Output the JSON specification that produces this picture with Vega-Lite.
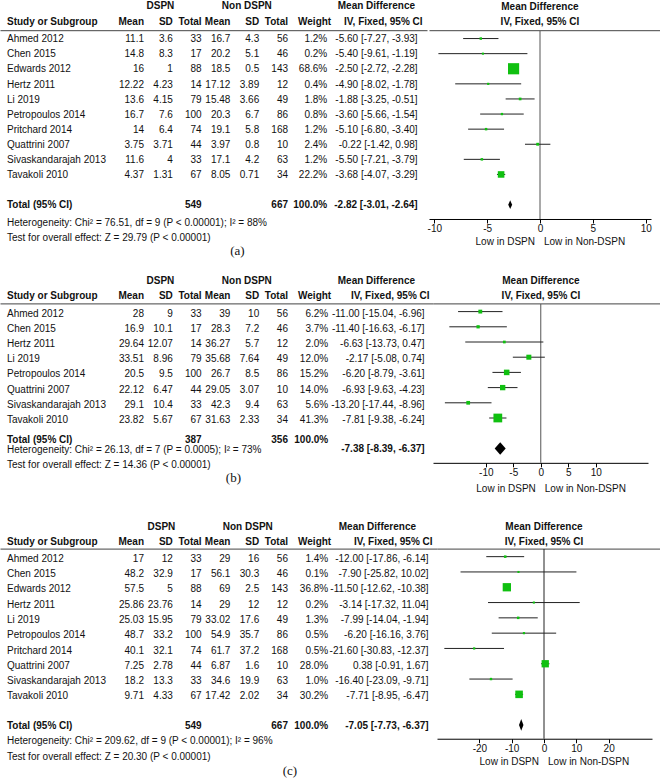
{
"$schema": "https://vega.github.io/schema/vega-lite/v6.json",
"padding": 0,
"background": "white",
"spacing": 0,
"config": {
  "view": {"stroke": null},
  "text": {"font": "Liberation Sans", "fontSize": 10, "color": "#111"},
  "axis": {"labelFont": "Liberation Sans", "labelFontSize": 10, "labelColor": "#111"}
},
"datasets": {
  "hdr": [
    {"row": "h1", "col": "dspn", "txt": "DSPN"},
    {"row": "h1", "col": "nondspn", "txt": "Non DSPN"},
    {"row": "h1", "col": "mdh", "txt": "Mean Difference"},
    {"row": "h2", "col": "row", "txt": "Study or Subgroup"},
    {"row": "h2", "col": "m1", "txt": "Mean"},
    {"row": "h2", "col": "sd1", "txt": "SD"},
    {"row": "h2", "col": "n1", "txt": "Total"},
    {"row": "h2", "col": "m2", "txt": "Mean"},
    {"row": "h2", "col": "sd2", "txt": "SD"},
    {"row": "h2", "col": "n2", "txt": "Total"},
    {"row": "h2", "col": "w", "txt": "Weight"},
    {"row": "h2", "col": "ci", "txt": "IV, Fixed, 95% CI"},
    {"row": "h1", "col": "plot", "txt": "Mean Difference"},
    {"row": "h2", "col": "plot", "txt": "IV, Fixed, 95% CI"}
  ],
  "fav": [
    {"side": "left", "label": "Low in DSPN"},
    {"side": "right", "label": "Low in Non-DSPN"}
  ],
  "a_rows": [
    {"kind": "study", "row": "Ahmed 2012", "m1": 11.1, "sd1": 3.6, "n1": 33, "m2": 16.7, "sd2": 4.3, "n2": 56, "w": 0.012, "md": -5.6, "lo": -7.27, "hi": -3.93, "ci": "-5.60 [-7.27, -3.93]"},
    {"kind": "study", "row": "Chen 2015", "m1": 14.8, "sd1": 8.3, "n1": 17, "m2": 20.2, "sd2": 5.1, "n2": 46, "w": 0.002, "md": -5.4, "lo": -9.61, "hi": -1.19, "ci": "-5.40 [-9.61, -1.19]"},
    {"kind": "study", "row": "Edwards 2012", "m1": 16, "sd1": 1, "n1": 88, "m2": 18.5, "sd2": 0.5, "n2": 143, "w": 0.686, "md": -2.5, "lo": -2.72, "hi": -2.28, "ci": "-2.50 [-2.72, -2.28]"},
    {"kind": "study", "row": "Hertz 2011", "m1": 12.22, "sd1": 4.23, "n1": 14, "m2": 17.12, "sd2": 3.89, "n2": 12, "w": 0.004, "md": -4.9, "lo": -8.02, "hi": -1.78, "ci": "-4.90 [-8.02, -1.78]"},
    {"kind": "study", "row": "Li 2019", "m1": 13.6, "sd1": 4.15, "n1": 79, "m2": 15.48, "sd2": 3.66, "n2": 49, "w": 0.018, "md": -1.88, "lo": -3.25, "hi": -0.51, "ci": "-1.88 [-3.25, -0.51]"},
    {"kind": "study", "row": "Petropoulos 2014", "m1": 16.7, "sd1": 7.6, "n1": 100, "m2": 20.3, "sd2": 6.7, "n2": 86, "w": 0.008, "md": -3.6, "lo": -5.66, "hi": -1.54, "ci": "-3.60 [-5.66, -1.54]"},
    {"kind": "study", "row": "Pritchard 2014", "m1": 14, "sd1": 6.4, "n1": 74, "m2": 19.1, "sd2": 5.8, "n2": 168, "w": 0.012, "md": -5.1, "lo": -6.8, "hi": -3.4, "ci": "-5.10 [-6.80, -3.40]"},
    {"kind": "study", "row": "Quattrini 2007", "m1": 3.75, "sd1": 3.71, "n1": 44, "m2": 3.97, "sd2": 0.8, "n2": 10, "w": 0.024, "md": -0.22, "lo": -1.42, "hi": 0.98, "ci": "-0.22 [-1.42, 0.98]"},
    {"kind": "study", "row": "Sivaskandarajah 2013", "m1": 11.6, "sd1": 4, "n1": 33, "m2": 17.1, "sd2": 4.2, "n2": 63, "w": 0.012, "md": -5.5, "lo": -7.21, "hi": -3.79, "ci": "-5.50 [-7.21, -3.79]"},
    {"kind": "study", "row": "Tavakoli 2010", "m1": 4.37, "sd1": 1.31, "n1": 67, "m2": 8.05, "sd2": 0.71, "n2": 34, "w": 0.222, "md": -3.68, "lo": -4.07, "hi": -3.29, "ci": "-3.68 [-4.07, -3.29]"},
    {"kind": "total", "row": "Total (95% CI)", "n1": 549, "n2": 667, "w": 1, "md": -2.82, "lo": -3.01, "hi": -2.64, "ci": "-2.82 [-3.01, -2.64]"}
  ],
  "a_notes": [
    {"row": "het", "col": "row", "txt": "Heterogeneity: Chi² = 76.51, df = 9 (P < 0.00001); I² = 88%"},
    {"row": "test", "col": "row", "txt": "Test for overall effect: Z = 29.79 (P < 0.00001)"},
    {"row": "label", "col": "m2", "txt": "(a)"}
  ],
  "b_rows": [
    {"kind": "study", "row": "Ahmed 2012", "m1": 28, "sd1": 9, "n1": 33, "m2": 39, "sd2": 10, "n2": 56, "w": 0.062, "md": -11.0, "lo": -15.04, "hi": -6.96, "ci": "-11.00 [-15.04, -6.96]"},
    {"kind": "study", "row": "Chen 2015", "m1": 16.9, "sd1": 10.1, "n1": 17, "m2": 28.3, "sd2": 7.2, "n2": 46, "w": 0.037, "md": -11.4, "lo": -16.63, "hi": -6.17, "ci": "-11.40 [-16.63, -6.17]"},
    {"kind": "study", "row": "Hertz 2011", "m1": 29.64, "sd1": 12.07, "n1": 14, "m2": 36.27, "sd2": 5.7, "n2": 12, "w": 0.02, "md": -6.63, "lo": -13.73, "hi": 0.47, "ci": "-6.63 [-13.73, 0.47]"},
    {"kind": "study", "row": "Li 2019", "m1": 33.51, "sd1": 8.96, "n1": 79, "m2": 35.68, "sd2": 7.64, "n2": 49, "w": 0.12, "md": -2.17, "lo": -5.08, "hi": 0.74, "ci": "-2.17 [-5.08, 0.74]"},
    {"kind": "study", "row": "Petropoulos 2014", "m1": 20.5, "sd1": 9.5, "n1": 100, "m2": 26.7, "sd2": 8.5, "n2": 86, "w": 0.152, "md": -6.2, "lo": -8.79, "hi": -3.61, "ci": "-6.20 [-8.79, -3.61]"},
    {"kind": "study", "row": "Quattrini 2007", "m1": 22.12, "sd1": 6.47, "n1": 44, "m2": 29.05, "sd2": 3.07, "n2": 10, "w": 0.14, "md": -6.93, "lo": -9.63, "hi": -4.23, "ci": "-6.93 [-9.63, -4.23]"},
    {"kind": "study", "row": "Sivaskandarajah 2013", "m1": 29.1, "sd1": 10.4, "n1": 33, "m2": 42.3, "sd2": 9.4, "n2": 63, "w": 0.056, "md": -13.2, "lo": -17.44, "hi": -8.96, "ci": "-13.20 [-17.44, -8.96]"},
    {"kind": "study", "row": "Tavakoli 2010", "m1": 23.82, "sd1": 5.67, "n1": 67, "m2": 31.63, "sd2": 2.33, "n2": 34, "w": 0.413, "md": -7.81, "lo": -9.38, "hi": -6.24, "ci": "-7.81 [-9.38, -6.24]"},
    {"kind": "total", "row": "Total (95% CI)", "n1": 387, "n2": 356, "w": 1, "md": -7.38, "lo": -8.39, "hi": -6.37, "ci": "-7.38 [-8.39, -6.37]"}
  ],
  "b_notes": [
    {"row": "het", "col": "row", "txt": "Heterogeneity: Chi² = 26.13, df = 7 (P = 0.0005); I² = 73%"},
    {"row": "test", "col": "row", "txt": "Test for overall effect: Z = 14.36 (P < 0.00001)"},
    {"row": "label", "col": "m2", "txt": "(b)"}
  ],
  "c_rows": [
    {"kind": "study", "row": "Ahmed 2012", "m1": 17, "sd1": 12, "n1": 33, "m2": 29, "sd2": 16, "n2": 56, "w": 0.014, "md": -12.0, "lo": -17.86, "hi": -6.14, "ci": "-12.00 [-17.86, -6.14]"},
    {"kind": "study", "row": "Chen 2015", "m1": 48.2, "sd1": 32.9, "n1": 17, "m2": 56.1, "sd2": 30.3, "n2": 46, "w": 0.001, "md": -7.9, "lo": -25.82, "hi": 10.02, "ci": "-7.90 [-25.82, 10.02]"},
    {"kind": "study", "row": "Edwards 2012", "m1": 57.5, "sd1": 5, "n1": 88, "m2": 69, "sd2": 2.5, "n2": 143, "w": 0.368, "md": -11.5, "lo": -12.62, "hi": -10.38, "ci": "-11.50 [-12.62, -10.38]"},
    {"kind": "study", "row": "Hertz 2011", "m1": 25.86, "sd1": 23.76, "n1": 14, "m2": 29, "sd2": 12, "n2": 12, "w": 0.002, "md": -3.14, "lo": -17.32, "hi": 11.04, "ci": "-3.14 [-17.32, 11.04]"},
    {"kind": "study", "row": "Li 2019", "m1": 25.03, "sd1": 15.95, "n1": 79, "m2": 33.02, "sd2": 17.6, "n2": 49, "w": 0.013, "md": -7.99, "lo": -14.04, "hi": -1.94, "ci": "-7.99 [-14.04, -1.94]"},
    {"kind": "study", "row": "Petropoulos 2014", "m1": 48.7, "sd1": 33.2, "n1": 100, "m2": 54.9, "sd2": 35.7, "n2": 86, "w": 0.005, "md": -6.2, "lo": -16.16, "hi": 3.76, "ci": "-6.20 [-16.16, 3.76]"},
    {"kind": "study", "row": "Pritchard 2014", "m1": 40.1, "sd1": 32.1, "n1": 74, "m2": 61.7, "sd2": 37.2, "n2": 168, "w": 0.005, "md": -21.6, "lo": -30.83, "hi": -12.37, "ci": "-21.60 [-30.83, -12.37]"},
    {"kind": "study", "row": "Quattrini 2007", "m1": 7.25, "sd1": 2.78, "n1": 44, "m2": 6.87, "sd2": 1.6, "n2": 10, "w": 0.28, "md": 0.38, "lo": -0.91, "hi": 1.67, "ci": "0.38 [-0.91, 1.67]"},
    {"kind": "study", "row": "Sivaskandarajah 2013", "m1": 18.2, "sd1": 13.3, "n1": 33, "m2": 34.6, "sd2": 19.9, "n2": 63, "w": 0.01, "md": -16.4, "lo": -23.09, "hi": -9.71, "ci": "-16.40 [-23.09, -9.71]"},
    {"kind": "study", "row": "Tavakoli 2010", "m1": 9.71, "sd1": 4.33, "n1": 67, "m2": 17.42, "sd2": 2.02, "n2": 34, "w": 0.302, "md": -7.71, "lo": -8.95, "hi": -6.47, "ci": "-7.71 [-8.95, -6.47]"},
    {"kind": "total", "row": "Total (95% CI)", "n1": 549, "n2": 667, "w": 1, "md": -7.05, "lo": -7.73, "hi": -6.37, "ci": "-7.05 [-7.73, -6.37]"}
  ],
  "c_notes": [
    {"row": "het", "col": "row", "txt": "Heterogeneity: Chi² = 209.62, df = 9 (P < 0.00001); I² = 96%"},
    {"row": "test", "col": "row", "txt": "Test for overall effect: Z = 20.30 (P < 0.00001)"},
    {"row": "label", "col": "n2", "txt": "(c)"}
  ]
},
"vconcat": [
  {
    "hconcat": [
      {
        "width": 427,
        "height": {"step": 15.1},
        "encoding": {
          "x": {"field": "col", "type": "nominal", "scale": {"type": "point", "domain": ["row","_1","_2","_3","_4","_5","_6","_7","_8","_9","m1","dspn","sd1","_13","n1","_15","m2","nondspn","sd2","_19","n2","_21","_22","w","_24","_25","mdh","_27","_28","ci"], "padding": 0.326, "align": 0}, "axis": {"orient": "top", "offset": -30.2, "labels": false, "ticks": false, "title": null, "grid": false, "domainColor": "#444", "domainWidth": 1}},
          "y": {"field": "row", "type": "nominal", "scale": {"type": "band", "domain": ["h1","h2","Ahmed 2012","Chen 2015","Edwards 2012","Hertz 2011","Li 2019","Petropoulos 2014","Pritchard 2014","Quattrini 2007","Sivaskandarajah 2013","Tavakoli 2010"," ","Total (95% CI)","het","test","label"], "paddingInner": 0, "paddingOuter": 0}, "axis": null}
        },
        "layer": [
          {"data": {"name": "hdr"}, "transform": [{"filter": "datum.row == 'h1' && datum.col != 'plot'"}], "mark": {"type": "text", "fontWeight": "bold", "align": "center", "dx": 2, "dy": -1.5}, "encoding": {"text": {"field": "txt", "type": "nominal"}}},
          {"data": {"name": "hdr"}, "transform": [{"filter": "datum.row == 'h2' && indexof(['m1','sd1','n1','m2','sd2','n2','w'], datum.col) >= 0"}], "mark": {"type": "text", "fontWeight": "bold", "align": "right", "dy": -0.5}, "encoding": {"text": {"field": "txt", "type": "nominal"}}},
          {"data": {"name": "hdr"}, "transform": [{"filter": "datum.row == 'h2' && datum.col == 'ci'"}], "mark": {"type": "text", "fontWeight": "bold", "align": "right", "dx": 5, "dy": -0.5}, "encoding": {"text": {"field": "txt", "type": "nominal"}}},
          {"data": {"name": "hdr"}, "transform": [{"filter": "datum.col == 'row'"}], "mark": {"type": "text", "fontWeight": "bold", "align": "left", "dx": 7, "dy": -0.5}, "encoding": {"text": {"field": "txt", "type": "nominal"}}},
          {"data": {"name": "a_rows"}, "transform": [{"filter": "datum.kind == 'study'"}, {"fold": ["row"], "as": ["col", "txt"]}], "mark": {"type": "text", "align": "left", "dx": 7, "dy": 1.5}, "encoding": {"text": {"field": "txt", "type": "nominal"}}},
          {"data": {"name": "a_rows"}, "transform": [{"filter": "datum.kind == 'study'"}, {"fold": ["m1","sd1","n1","m2","sd2","n2","ci"], "as": ["col", "txt"]}], "mark": {"type": "text", "align": "right", "dy": 1.5}, "encoding": {"text": {"field": "txt", "type": "nominal"}}},
          {"data": {"name": "a_rows"}, "transform": [{"filter": "datum.kind == 'study'"}, {"fold": ["w"], "as": ["col", "txt"]}], "mark": {"type": "text", "align": "right", "dx": -4, "dy": 1.5}, "encoding": {"text": {"field": "txt", "type": "quantitative", "format": ".1%"}}},
          {"data": {"name": "a_rows"}, "transform": [{"filter": "datum.kind == 'total'"}, {"fold": ["row"], "as": ["col", "txt"]}], "mark": {"type": "text", "align": "left", "fontWeight": "bold", "dx": 7, "dy": 1.5}, "encoding": {"text": {"field": "txt", "type": "nominal"}}},
          {"data": {"name": "a_rows"}, "transform": [{"filter": "datum.kind == 'total'"}, {"fold": ["n1","n2","ci"], "as": ["col", "txt"]}], "mark": {"type": "text", "align": "right", "fontWeight": "bold", "dy": 1.5}, "encoding": {"text": {"field": "txt", "type": "nominal"}}},
          {"data": {"name": "a_rows"}, "transform": [{"filter": "datum.kind == 'total'"}, {"fold": ["w"], "as": ["col", "txt"]}], "mark": {"type": "text", "align": "right", "fontWeight": "bold", "dx": -4, "dy": 1.5}, "encoding": {"text": {"field": "txt", "type": "quantitative", "format": ".1%"}}},
          {"data": {"name": "a_notes"}, "transform": [{"filter": "datum.row != 'label'"}], "mark": {"type": "text", "align": "left", "dx": 7, "dy": 4}, "encoding": {"text": {"field": "txt", "type": "nominal"}}},
          {"data": {"name": "a_notes"}, "transform": [{"filter": "datum.row == 'label'"}], "mark": {"type": "text", "align": "center", "font": "Liberation Serif", "fontSize": 13, "dx": 7, "dy": 2}, "encoding": {"text": {"field": "txt", "type": "nominal"}}}
        ]
      },
      {
        "vconcat": [
          {
            "width": 233,
            "height": {"step": 15.1},
            "data": {"name": "hdr"},
            "transform": [{"filter": "datum.col == 'plot'"}],
            "mark": {"type": "text", "fontWeight": "bold", "align": "center", "dy": -1},
            "encoding": {
              "x": {"datum": 0, "type": "quantitative", "scale": {"domain": [-10.5, 11.56], "nice": false, "zero": false}, "axis": {"orient": "bottom", "labels": false, "ticks": false, "title": null, "grid": false, "domainColor": "#444", "domainWidth": 1}},
              "y": {"field": "row", "type": "nominal", "scale": {"type": "band", "domain": ["h1","h2"], "paddingInner": 0, "paddingOuter": 0}, "axis": null},
              "text": {"field": "txt", "type": "nominal"}
            }
          },
          {
            "width": 222,
            "height": {"step": 15.1},
            "data": {"name": "a_rows"},
            "layer": [
              {"transform": [{"filter": "datum.kind == 'total'"}], "mark": {"type": "rule", "color": "#555", "strokeWidth": 1}, "encoding": {"x": {"datum": 0, "type": "quantitative", "scale": {"domain": [-10.5, 10.5], "nice": false, "zero": false}, "axis": {"values": [-10,-5,0,5,10], "title": null, "grid": false, "tickSize": 4, "labelPadding": 1, "labelExpr": "toString(datum.value)", "domainColor": "#000", "tickColor": "#000", "labelFlush": false, "labelOverlap": false}}}},
              {"transform": [{"filter": "datum.kind == 'study'"}], "mark": {"type": "rule", "color": "#222", "strokeWidth": 1}, "encoding": {"x": {"field": "lo", "type": "quantitative", "scale": {"domain": [-10.5, 10.5], "nice": false, "zero": false}, "axis": {"values": [-10,-5,0,5,10], "title": null, "grid": false, "tickSize": 4, "labelPadding": 1, "labelExpr": "toString(datum.value)", "domainColor": "#000", "tickColor": "#000", "labelFlush": false, "labelOverlap": false}}, "x2": {"field": "hi"}, "y": {"field": "row", "type": "nominal", "scale": {"type": "band", "domain": ["Ahmed 2012","Chen 2015","Edwards 2012","Hertz 2011","Li 2019","Petropoulos 2014","Pritchard 2014","Quattrini 2007","Sivaskandarajah 2013","Tavakoli 2010"," ","Total (95% CI)"], "paddingInner": 0, "paddingOuter": 0.225, "align": 0}, "axis": null}}},
              {"transform": [{"filter": "datum.kind == 'study'"}], "mark": {"type": "point", "shape": "square", "filled": true, "color": "#10c010", "opacity": 1}, "encoding": {"x": {"field": "md", "type": "quantitative", "scale": {"domain": [-10.5, 10.5], "nice": false, "zero": false}, "axis": {"values": [-10,-5,0,5,10], "title": null, "grid": false, "tickSize": 4, "labelPadding": 1, "labelExpr": "toString(datum.value)", "domainColor": "#000", "tickColor": "#000", "labelFlush": false, "labelOverlap": false}}, "y": {"field": "row", "type": "nominal", "scale": {"type": "band", "domain": ["Ahmed 2012","Chen 2015","Edwards 2012","Hertz 2011","Li 2019","Petropoulos 2014","Pritchard 2014","Quattrini 2007","Sivaskandarajah 2013","Tavakoli 2010"," ","Total (95% CI)"], "paddingInner": 0, "paddingOuter": 0.225, "align": 0}, "axis": null}, "size": {"field": "w", "type": "quantitative", "scale": {"domain": [0, 1], "range": [4, 180]}, "legend": null}}},
              {"transform": [{"filter": "datum.kind == 'total'"}], "mark": {"type": "point", "shape": "M-0.45,0L0,-1L0.45,0L0,1Z", "filled": true, "color": "#000", "opacity": 1, "size": 76}, "encoding": {"x": {"field": "md", "type": "quantitative", "scale": {"domain": [-10.5, 10.5], "nice": false, "zero": false}, "axis": {"values": [-10,-5,0,5,10], "title": null, "grid": false, "tickSize": 4, "labelPadding": 1, "labelExpr": "toString(datum.value)", "domainColor": "#000", "tickColor": "#000", "labelFlush": false, "labelOverlap": false}}, "y": {"field": "row", "type": "nominal", "scale": {"type": "band", "domain": ["Ahmed 2012","Chen 2015","Edwards 2012","Hertz 2011","Li 2019","Petropoulos 2014","Pritchard 2014","Quattrini 2007","Sivaskandarajah 2013","Tavakoli 2010"," ","Total (95% CI)"], "paddingInner": 0, "paddingOuter": 0.225, "align": 0}, "axis": null}}}
            ]
          },
          {
            "width": 222,
            "height": 53.4,
            "data": {"name": "fav"},
            "layer": [
              {"transform": [{"filter": "datum.side == 'left'"}], "mark": {"type": "text", "align": "right", "dx": -5, "dy": -3.9}, "encoding": {"x": {"datum": 0, "type": "quantitative", "scale": {"domain": [-10.5, 10.5], "nice": false, "zero": false}, "axis": null}, "text": {"field": "label", "type": "nominal"}}},
              {"transform": [{"filter": "datum.side == 'right'"}], "mark": {"type": "text", "align": "left", "dx": 4, "dy": -3.9}, "encoding": {"x": {"datum": 0, "type": "quantitative", "scale": {"domain": [-10.5, 10.5], "nice": false, "zero": false}, "axis": null}, "text": {"field": "label", "type": "nominal"}}}
            ]
          }
        ],
        "spacing": 0,
        "bounds": "flush"
      }
    ],
    "spacing": 0
  },
  {
    "hconcat": [
      {
        "width": 433,
        "height": {"step": 15.2},
        "encoding": {
          "x": {"field": "col", "type": "nominal", "scale": {"type": "point", "domain": ["row","_1","_2","_3","_4","_5","_6","_7","_8","_9","m1","dspn","sd1","_13","n1","_15","m2","nondspn","sd2","_19","n2","_21","_22","w","_24","_25","mdh","_27","_28","ci"], "padding": 0.535, "align": 0}, "axis": {"orient": "top", "offset": -30.4, "labels": false, "ticks": false, "title": null, "grid": false, "domainColor": "#444", "domainWidth": 1}},
          "y": {"field": "row", "type": "nominal", "scale": {"type": "band", "domain": ["h1","h2","Ahmed 2012","Chen 2015","Hertz 2011","Li 2019","Petropoulos 2014","Quattrini 2007","Sivaskandarajah 2013","Tavakoli 2010","Total (95% CI)","het","test","label"], "paddingInner": 0, "paddingOuter": 0}, "axis": null}
        },
        "layer": [
          {"data": {"name": "hdr"}, "transform": [{"filter": "datum.row == 'h1' && datum.col != 'plot'"}], "mark": {"type": "text", "fontWeight": "bold", "align": "center", "dx": 2}, "encoding": {"text": {"field": "txt", "type": "nominal"}}},
          {"data": {"name": "hdr"}, "transform": [{"filter": "datum.row == 'h2' && indexof(['m1','sd1','n1','m2','sd2','n2','w'], datum.col) >= 0"}], "mark": {"type": "text", "fontWeight": "bold", "align": "right"}, "encoding": {"text": {"field": "txt", "type": "nominal"}}},
          {"data": {"name": "hdr"}, "transform": [{"filter": "datum.row == 'h2' && datum.col == 'ci'"}], "mark": {"type": "text", "fontWeight": "bold", "align": "right", "dx": 12}, "encoding": {"text": {"field": "txt", "type": "nominal"}}},
          {"data": {"name": "hdr"}, "transform": [{"filter": "datum.col == 'row'"}], "mark": {"type": "text", "fontWeight": "bold", "align": "left", "dx": 7}, "encoding": {"text": {"field": "txt", "type": "nominal"}}},
          {"data": {"name": "b_rows"}, "transform": [{"filter": "datum.kind == 'study'"}, {"fold": ["row"], "as": ["col", "txt"]}], "mark": {"type": "text", "align": "left", "dx": 7, "dy": 2.5}, "encoding": {"text": {"field": "txt", "type": "nominal"}}},
          {"data": {"name": "b_rows"}, "transform": [{"filter": "datum.kind == 'study'"}, {"fold": ["m1","sd1","n1","m2","sd2","n2"], "as": ["col", "txt"]}], "mark": {"type": "text", "align": "right", "dy": 2.5}, "encoding": {"text": {"field": "txt", "type": "nominal"}}},
          {"data": {"name": "b_rows"}, "transform": [{"filter": "datum.kind == 'study'"}, {"fold": ["ci"], "as": ["col", "txt"]}], "mark": {"type": "text", "align": "right", "dx": 7, "dy": 2.5}, "encoding": {"text": {"field": "txt", "type": "nominal"}}},
          {"data": {"name": "b_rows"}, "transform": [{"filter": "datum.kind == 'study'"}, {"fold": ["w"], "as": ["col", "txt"]}], "mark": {"type": "text", "align": "right", "dx": -3, "dy": 2.5}, "encoding": {"text": {"field": "txt", "type": "quantitative", "format": ".1%"}}},
          {"data": {"name": "b_rows"}, "transform": [{"filter": "datum.kind == 'total'"}, {"fold": ["row"], "as": ["col", "txt"]}], "mark": {"type": "text", "align": "left", "fontWeight": "bold", "dx": 7, "dy": 7}, "encoding": {"text": {"field": "txt", "type": "nominal"}}},
          {"data": {"name": "b_rows"}, "transform": [{"filter": "datum.kind == 'total'"}, {"fold": ["n1","n2"], "as": ["col", "txt"]}], "mark": {"type": "text", "align": "right", "fontWeight": "bold", "dy": 7}, "encoding": {"text": {"field": "txt", "type": "nominal"}}},
          {"data": {"name": "b_rows"}, "transform": [{"filter": "datum.kind == 'total'"}, {"fold": ["w"], "as": ["col", "txt"]}], "mark": {"type": "text", "align": "right", "fontWeight": "bold", "dx": -3, "dy": 7}, "encoding": {"text": {"field": "txt", "type": "quantitative", "format": ".1%"}}},
          {"data": {"name": "b_rows"}, "transform": [{"filter": "datum.kind == 'total'"}, {"fold": ["ci"], "as": ["col", "txt"]}], "mark": {"type": "text", "align": "right", "fontWeight": "bold", "dx": 7, "dy": 16}, "encoding": {"text": {"field": "txt", "type": "nominal"}}},
          {"data": {"name": "b_notes"}, "transform": [{"filter": "datum.row != 'label'"}], "mark": {"type": "text", "align": "left", "dx": 7, "dy": 2}, "encoding": {"text": {"field": "txt", "type": "nominal"}}},
          {"data": {"name": "b_notes"}, "transform": [{"filter": "datum.row == 'label'"}], "mark": {"type": "text", "align": "center", "font": "Liberation Serif", "fontSize": 13, "dx": 3}, "encoding": {"text": {"field": "txt", "type": "nominal"}}}
        ]
      },
      {
        "vconcat": [
          {
            "width": 227,
            "height": {"step": 15.2},
            "data": {"name": "hdr"},
            "transform": [{"filter": "datum.col == 'plot'"}],
            "mark": {"type": "text", "fontWeight": "bold", "align": "center"},
            "encoding": {
              "x": {"datum": 0, "type": "quantitative", "scale": {"domain": [-19.6, 21.64], "nice": false, "zero": false}, "axis": {"orient": "bottom", "labels": false, "ticks": false, "title": null, "grid": false, "domainColor": "#444", "domainWidth": 1}},
              "y": {"field": "row", "type": "nominal", "scale": {"type": "band", "domain": ["h1","h2"], "paddingInner": 0, "paddingOuter": 0}, "axis": null},
              "text": {"field": "txt", "type": "nominal"}
            }
          },
          {
            "width": 215,
            "height": {"step": 15.2},
            "data": {"name": "b_rows"},
            "layer": [
              {"transform": [{"filter": "datum.kind == 'total'"}], "mark": {"type": "rule", "color": "#555", "strokeWidth": 1}, "encoding": {"x": {"datum": 0, "type": "quantitative", "scale": {"domain": [-19.6, 19.5], "nice": false, "zero": false}, "axis": {"values": [-10,-5,0,5,10], "title": null, "grid": false, "tickSize": 4, "labelPadding": 1, "labelExpr": "toString(datum.value)", "domainColor": "#000", "tickColor": "#000", "labelFlush": false, "labelOverlap": false}}}},
              {"transform": [{"filter": "datum.kind == 'study'"}], "mark": {"type": "rule", "color": "#222", "strokeWidth": 1}, "encoding": {"x": {"field": "lo", "type": "quantitative", "scale": {"domain": [-19.6, 19.5], "nice": false, "zero": false}, "axis": {"values": [-10,-5,0,5,10], "title": null, "grid": false, "tickSize": 4, "labelPadding": 1, "labelExpr": "toString(datum.value)", "domainColor": "#000", "tickColor": "#000", "labelFlush": false, "labelOverlap": false}}, "x2": {"field": "hi"}, "y": {"field": "row", "type": "nominal", "scale": {"type": "band", "domain": ["Ahmed 2012","Chen 2015","Hertz 2011","Li 2019","Petropoulos 2014","Quattrini 2007","Sivaskandarajah 2013","Tavakoli 2010"," ","Total (95% CI)"], "paddingInner": 0, "paddingOuter": 0.225, "align": 0}, "axis": null}}},
              {"transform": [{"filter": "datum.kind == 'study'"}], "mark": {"type": "point", "shape": "square", "filled": true, "color": "#10c010", "opacity": 1}, "encoding": {"x": {"field": "md", "type": "quantitative", "scale": {"domain": [-19.6, 19.5], "nice": false, "zero": false}, "axis": {"values": [-10,-5,0,5,10], "title": null, "grid": false, "tickSize": 4, "labelPadding": 1, "labelExpr": "toString(datum.value)", "domainColor": "#000", "tickColor": "#000", "labelFlush": false, "labelOverlap": false}}, "y": {"field": "row", "type": "nominal", "scale": {"type": "band", "domain": ["Ahmed 2012","Chen 2015","Hertz 2011","Li 2019","Petropoulos 2014","Quattrini 2007","Sivaskandarajah 2013","Tavakoli 2010"," ","Total (95% CI)"], "paddingInner": 0, "paddingOuter": 0.225, "align": 0}, "axis": null}, "size": {"field": "w", "type": "quantitative", "scale": {"domain": [0, 1], "range": [4, 180]}, "legend": null}}},
              {"transform": [{"filter": "datum.kind == 'total'"}], "mark": {"type": "point", "shape": "M-0.88,0L0,-1L0.88,0L0,1Z", "filled": true, "color": "#000", "opacity": 1, "size": 156}, "encoding": {"x": {"field": "md", "type": "quantitative", "scale": {"domain": [-19.6, 19.5], "nice": false, "zero": false}, "axis": {"values": [-10,-5,0,5,10], "title": null, "grid": false, "tickSize": 4, "labelPadding": 1, "labelExpr": "toString(datum.value)", "domainColor": "#000", "tickColor": "#000", "labelFlush": false, "labelOverlap": false}}, "y": {"field": "row", "type": "nominal", "scale": {"type": "band", "domain": ["Ahmed 2012","Chen 2015","Hertz 2011","Li 2019","Petropoulos 2014","Quattrini 2007","Sivaskandarajah 2013","Tavakoli 2010"," ","Total (95% CI)"], "paddingInner": 0, "paddingOuter": 0.225, "align": 0}, "axis": null}}}
            ]
          },
          {
            "width": 215,
            "height": 55,
            "data": {"name": "fav"},
            "layer": [
              {"transform": [{"filter": "datum.side == 'left'"}], "mark": {"type": "text", "align": "right", "dx": -5, "dy": -1.3}, "encoding": {"x": {"datum": 0, "type": "quantitative", "scale": {"domain": [-19.6, 19.5], "nice": false, "zero": false}, "axis": null}, "text": {"field": "label", "type": "nominal"}}},
              {"transform": [{"filter": "datum.side == 'right'"}], "mark": {"type": "text", "align": "left", "dx": 4, "dy": -1.3}, "encoding": {"x": {"datum": 0, "type": "quantitative", "scale": {"domain": [-19.6, 19.5], "nice": false, "zero": false}, "axis": null}, "text": {"field": "label", "type": "nominal"}}}
            ]
          }
        ],
        "spacing": 0,
        "bounds": "flush"
      }
    ],
    "spacing": 0
  },
  {
    "hconcat": [
      {
        "width": 437,
        "height": {"step": 15.3},
        "encoding": {
          "x": {"field": "col", "type": "nominal", "scale": {"type": "point", "domain": ["row","_1","_2","_3","_4","_5","_6","_7","_8","_9","m1","dspn","sd1","_13","n1","_15","m2","nondspn","sd2","_19","n2","_21","_22","w","_24","_25","mdh","_27","_28","ci"], "padding": 0.674, "align": 0}, "axis": {"orient": "top", "offset": -30.6, "labels": false, "ticks": false, "title": null, "grid": false, "domainColor": "#444", "domainWidth": 1}},
          "y": {"field": "row", "type": "nominal", "scale": {"type": "band", "domain": ["h1","h2","Ahmed 2012","Chen 2015","Edwards 2012","Hertz 2011","Li 2019","Petropoulos 2014","Pritchard 2014","Quattrini 2007","Sivaskandarajah 2013","Tavakoli 2010"," ","Total (95% CI)","het","test","label"], "paddingInner": 0, "paddingOuter": 0}, "axis": null}
        },
        "layer": [
          {"data": {"name": "hdr"}, "transform": [{"filter": "datum.row == 'h1' && datum.col != 'plot'"}], "mark": {"type": "text", "fontWeight": "bold", "align": "center", "dx": 3, "dy": 1}, "encoding": {"text": {"field": "txt", "type": "nominal"}}},
          {"data": {"name": "hdr"}, "transform": [{"filter": "datum.row == 'h2' && indexof(['m1','sd1','n1','m2','sd2','n2','w'], datum.col) >= 0"}], "mark": {"type": "text", "fontWeight": "bold", "align": "right", "dy": 1.5}, "encoding": {"text": {"field": "txt", "type": "nominal"}}},
          {"data": {"name": "hdr"}, "transform": [{"filter": "datum.row == 'h2' && datum.col == 'ci'"}], "mark": {"type": "text", "fontWeight": "bold", "align": "right", "dx": 15, "dy": 1.5}, "encoding": {"text": {"field": "txt", "type": "nominal"}}},
          {"data": {"name": "hdr"}, "transform": [{"filter": "datum.col == 'row'"}], "mark": {"type": "text", "fontWeight": "bold", "align": "left", "dx": 7, "dy": 1.5}, "encoding": {"text": {"field": "txt", "type": "nominal"}}},
          {"data": {"name": "c_rows"}, "transform": [{"filter": "datum.kind == 'study'"}, {"fold": ["row"], "as": ["col", "txt"]}], "mark": {"type": "text", "align": "left", "dx": 7, "dy": 2.5}, "encoding": {"text": {"field": "txt", "type": "nominal"}}},
          {"data": {"name": "c_rows"}, "transform": [{"filter": "datum.kind == 'study'"}, {"fold": ["m1","sd1","n1","m2","sd2","n2"], "as": ["col", "txt"]}], "mark": {"type": "text", "align": "right", "dy": 2.5}, "encoding": {"text": {"field": "txt", "type": "nominal"}}},
          {"data": {"name": "c_rows"}, "transform": [{"filter": "datum.kind == 'study'"}, {"fold": ["ci"], "as": ["col", "txt"]}], "mark": {"type": "text", "align": "right", "dx": 11, "dy": 2.5}, "encoding": {"text": {"field": "txt", "type": "nominal"}}},
          {"data": {"name": "c_rows"}, "transform": [{"filter": "datum.kind == 'study'"}, {"fold": ["w"], "as": ["col", "txt"]}], "mark": {"type": "text", "align": "right", "dx": -3, "dy": 2.5}, "encoding": {"text": {"field": "txt", "type": "quantitative", "format": ".1%"}}},
          {"data": {"name": "c_rows"}, "transform": [{"filter": "datum.kind == 'total'"}, {"fold": ["row"], "as": ["col", "txt"]}], "mark": {"type": "text", "align": "left", "fontWeight": "bold", "dx": 7, "dy": 1.5}, "encoding": {"text": {"field": "txt", "type": "nominal"}}},
          {"data": {"name": "c_rows"}, "transform": [{"filter": "datum.kind == 'total'"}, {"fold": ["n1","n2"], "as": ["col", "txt"]}], "mark": {"type": "text", "align": "right", "fontWeight": "bold", "dy": 1.5}, "encoding": {"text": {"field": "txt", "type": "nominal"}}},
          {"data": {"name": "c_rows"}, "transform": [{"filter": "datum.kind == 'total'"}, {"fold": ["w"], "as": ["col", "txt"]}], "mark": {"type": "text", "align": "right", "fontWeight": "bold", "dx": -3, "dy": 1.5}, "encoding": {"text": {"field": "txt", "type": "quantitative", "format": ".1%"}}},
          {"data": {"name": "c_rows"}, "transform": [{"filter": "datum.kind == 'total'"}, {"fold": ["ci"], "as": ["col", "txt"]}], "mark": {"type": "text", "align": "right", "fontWeight": "bold", "dx": 11, "dy": 1.5}, "encoding": {"text": {"field": "txt", "type": "nominal"}}},
          {"data": {"name": "c_notes"}, "transform": [{"filter": "datum.row != 'label'"}], "mark": {"type": "text", "align": "left", "dx": 7, "dy": 1.5}, "encoding": {"text": {"field": "txt", "type": "nominal"}}},
          {"data": {"name": "c_notes"}, "transform": [{"filter": "datum.row == 'label'"}], "mark": {"type": "text", "align": "center", "font": "Liberation Serif", "fontSize": 13, "dx": 2, "dy": 1}, "encoding": {"text": {"field": "txt", "type": "nominal"}}}
        ]
      },
      {
        "vconcat": [
          {
            "width": 223,
            "height": {"step": 15.3},
            "data": {"name": "hdr"},
            "transform": [{"filter": "datum.col == 'plot'"}],
            "mark": {"type": "text", "fontWeight": "bold", "align": "center", "dy": 1},
            "encoding": {
              "x": {"datum": 0, "type": "quantitative", "scale": {"domain": [-33.1, 35.9], "nice": false, "zero": false}, "axis": {"orient": "bottom", "labels": false, "ticks": false, "title": null, "grid": false, "domainColor": "#444", "domainWidth": 1}},
              "y": {"field": "row", "type": "nominal", "scale": {"type": "band", "domain": ["h1","h2"], "paddingInner": 0, "paddingOuter": 0}, "axis": null},
              "text": {"field": "txt", "type": "nominal"}
            }
          },
          {
            "width": 215,
            "height": {"step": 15.3},
            "data": {"name": "c_rows"},
            "layer": [
              {"transform": [{"filter": "datum.kind == 'total'"}], "mark": {"type": "rule", "color": "#222", "strokeWidth": 1}, "encoding": {"x": {"datum": 0, "type": "quantitative", "scale": {"domain": [-33.1, 33.4], "nice": false, "zero": false}, "axis": {"values": [-20,-10,0,10,20], "title": null, "grid": false, "tickSize": 4, "labelPadding": 1, "labelExpr": "toString(datum.value)", "domainColor": "#000", "tickColor": "#000", "labelFlush": false, "labelOverlap": false}}}},
              {"transform": [{"filter": "datum.kind == 'study'"}], "mark": {"type": "rule", "color": "#222", "strokeWidth": 1}, "encoding": {"x": {"field": "lo", "type": "quantitative", "scale": {"domain": [-33.1, 33.4], "nice": false, "zero": false}, "axis": {"values": [-20,-10,0,10,20], "title": null, "grid": false, "tickSize": 4, "labelPadding": 1, "labelExpr": "toString(datum.value)", "domainColor": "#000", "tickColor": "#000", "labelFlush": false, "labelOverlap": false}}, "x2": {"field": "hi"}, "y": {"field": "row", "type": "nominal", "scale": {"type": "band", "domain": ["Ahmed 2012","Chen 2015","Edwards 2012","Hertz 2011","Li 2019","Petropoulos 2014","Pritchard 2014","Quattrini 2007","Sivaskandarajah 2013","Tavakoli 2010"," ","Total (95% CI)"], "paddingInner": 0, "paddingOuter": 0.2, "align": 0}, "axis": null}}},
              {"transform": [{"filter": "datum.kind == 'study'"}], "mark": {"type": "point", "shape": "square", "filled": true, "color": "#10c010", "opacity": 1}, "encoding": {"x": {"field": "md", "type": "quantitative", "scale": {"domain": [-33.1, 33.4], "nice": false, "zero": false}, "axis": {"values": [-20,-10,0,10,20], "title": null, "grid": false, "tickSize": 4, "labelPadding": 1, "labelExpr": "toString(datum.value)", "domainColor": "#000", "tickColor": "#000", "labelFlush": false, "labelOverlap": false}}, "y": {"field": "row", "type": "nominal", "scale": {"type": "band", "domain": ["Ahmed 2012","Chen 2015","Edwards 2012","Hertz 2011","Li 2019","Petropoulos 2014","Pritchard 2014","Quattrini 2007","Sivaskandarajah 2013","Tavakoli 2010"," ","Total (95% CI)"], "paddingInner": 0, "paddingOuter": 0.2, "align": 0}, "axis": null}, "size": {"field": "w", "type": "quantitative", "scale": {"domain": [0, 1], "range": [4, 180]}, "legend": null}}},
              {"transform": [{"filter": "datum.kind == 'total'"}], "mark": {"type": "point", "shape": "M-0.38,0L0,-1L0.38,0L0,1Z", "filled": true, "color": "#000", "opacity": 1, "size": 137}, "encoding": {"x": {"field": "md", "type": "quantitative", "scale": {"domain": [-33.1, 33.4], "nice": false, "zero": false}, "axis": {"values": [-20,-10,0,10,20], "title": null, "grid": false, "tickSize": 4, "labelPadding": 1, "labelExpr": "toString(datum.value)", "domainColor": "#000", "tickColor": "#000", "labelFlush": false, "labelOverlap": false}}, "y": {"field": "row", "type": "nominal", "scale": {"type": "band", "domain": ["Ahmed 2012","Chen 2015","Edwards 2012","Hertz 2011","Li 2019","Petropoulos 2014","Pritchard 2014","Quattrini 2007","Sivaskandarajah 2013","Tavakoli 2010"," ","Total (95% CI)"], "paddingInner": 0, "paddingOuter": 0.2, "align": 0}, "axis": null}}}
            ]
          },
          {
            "width": 215,
            "height": 40,
            "data": {"name": "fav"},
            "layer": [
              {"transform": [{"filter": "datum.side == 'left'"}], "mark": {"type": "text", "align": "right", "dx": -5, "dy": 3}, "encoding": {"x": {"datum": 0, "type": "quantitative", "scale": {"domain": [-33.1, 33.4], "nice": false, "zero": false}, "axis": null}, "text": {"field": "label", "type": "nominal"}}},
              {"transform": [{"filter": "datum.side == 'right'"}], "mark": {"type": "text", "align": "left", "dx": 4, "dy": 3}, "encoding": {"x": {"datum": 0, "type": "quantitative", "scale": {"domain": [-33.1, 33.4], "nice": false, "zero": false}, "axis": null}, "text": {"field": "label", "type": "nominal"}}}
            ]
          }
        ],
        "spacing": 0,
        "bounds": "flush"
      }
    ],
    "spacing": 0
  }
]
}
